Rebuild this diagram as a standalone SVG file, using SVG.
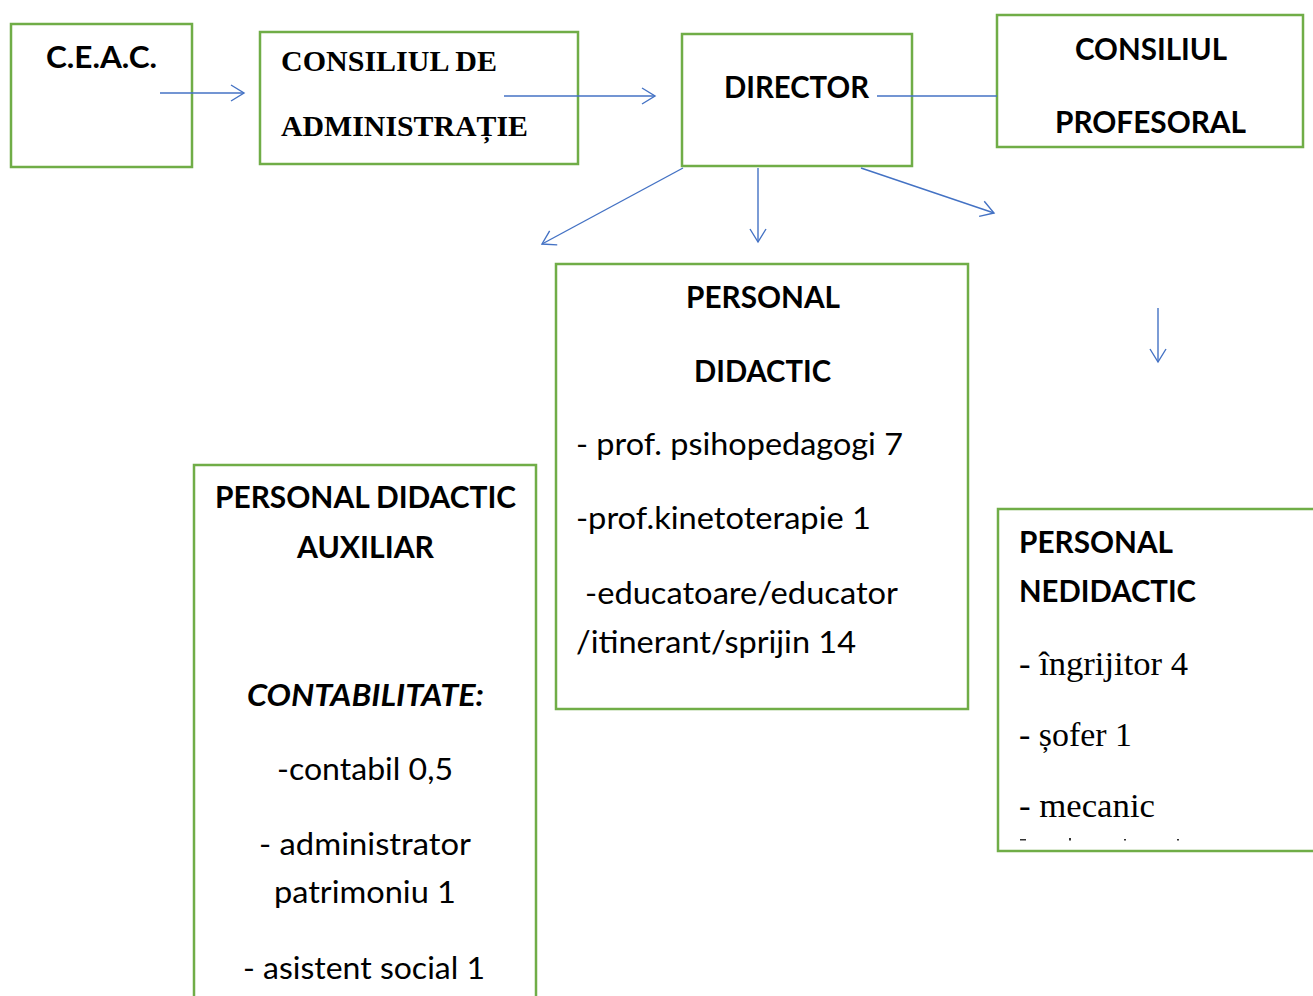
<svg xmlns="http://www.w3.org/2000/svg" width="1313" height="996" viewBox="0 0 1313 996">
  <style>
    .box { fill: #ffffff; stroke: #70AD47; stroke-width: 2.5; }
    .conn { stroke: #4472C4; stroke-width: 1.4; fill: none; }
    .sb { font-family: Lato, "Open Sans", sans-serif; font-weight: bold; font-size: 31px; fill: #000; }
    .sr { font-family: Lato, "Open Sans", sans-serif; font-weight: normal; font-size: 31px; fill: #000; }
    .tb { font-family: "Liberation Serif", "Times New Roman", serif; font-weight: bold; font-size: 30px; fill: #000; }
    .tr { font-family: "Liberation Serif", "Times New Roman", serif; font-weight: normal; font-size: 34.5px; fill: #000; }
    .mid { text-anchor: middle; }
  </style>
  <defs>
    <marker id="arr" markerUnits="userSpaceOnUse" markerWidth="18" markerHeight="20" refX="14" refY="9" orient="auto">
      <path d="M1,1 L14,9 L1,17" fill="none" stroke="#4472C4" stroke-width="1.4"/>
    </marker>
  </defs>
  <rect width="1313" height="996" fill="#ffffff"/>

  <g id="ceac">
    <rect class="box" x="11" y="24" width="181" height="143"/>
    <text class="sb mid" x="101.5" y="68" textLength="111" lengthAdjust="spacingAndGlyphs">C.E.A.C.</text>
  </g>

  <g id="consiliul-administratie">
    <rect class="box" x="260" y="32" width="318" height="132"/>
    <text class="tb" x="281" y="71" textLength="216" lengthAdjust="spacingAndGlyphs">CONSILIUL DE</text>
    <text class="tb" x="281" y="136" textLength="247" lengthAdjust="spacingAndGlyphs">ADMINISTRAȚIE</text>
  </g>

  <g id="director">
    <rect class="box" x="682" y="34" width="230" height="132"/>
    <text class="sb" x="724" y="98" textLength="145" lengthAdjust="spacingAndGlyphs">DIRECTOR</text>
  </g>

  <g id="consiliul-profesoral">
    <rect class="box" x="997" y="15" width="306" height="132"/>
    <text class="sb mid" x="1151" y="60" textLength="152" lengthAdjust="spacingAndGlyphs">CONSILIUL</text>
    <text class="sb mid" x="1150.5" y="133" textLength="191" lengthAdjust="spacingAndGlyphs">PROFESORAL</text>
  </g>

  <g id="personal-didactic">
    <rect class="box" x="556" y="264" width="412" height="445"/>
    <text class="sb mid" x="763" y="308" textLength="154" lengthAdjust="spacingAndGlyphs">PERSONAL</text>
    <text class="sb mid" x="762.5" y="382" textLength="137" lengthAdjust="spacingAndGlyphs">DIDACTIC</text>
    <text class="sr" x="576" y="455" textLength="327" lengthAdjust="spacingAndGlyphs">- prof. psihopedagogi 7</text>
    <text class="sr" x="576" y="529" textLength="295" lengthAdjust="spacingAndGlyphs">-prof.kinetoterapie 1</text>
    <text class="sr" x="585" y="604" textLength="313" lengthAdjust="spacingAndGlyphs">-educatoare/educator</text>
    <text class="sr" x="576" y="653" textLength="280" lengthAdjust="spacingAndGlyphs">/itinerant/sprijin 14</text>
  </g>

  <g id="personal-didactic-auxiliar">
    <path class="box" d="M194,1000 L194,465 L536,465 L536,1000"/>
    <text class="sb mid" x="365.5" y="508" textLength="301" lengthAdjust="spacingAndGlyphs">PERSONAL DIDACTIC</text>
    <text class="sb mid" x="365.5" y="558" textLength="137" lengthAdjust="spacingAndGlyphs">AUXILIAR</text>
    <text class="sb mid" x="365.5" y="706" font-style="italic" textLength="237" lengthAdjust="spacingAndGlyphs">CONTABILITATE:</text>
    <text class="sr mid" x="365" y="780" textLength="176" lengthAdjust="spacingAndGlyphs">-contabil 0,5</text>
    <text class="sr mid" x="365" y="855" textLength="212" lengthAdjust="spacingAndGlyphs">- administrator</text>
    <text class="sr mid" x="365" y="903" textLength="182" lengthAdjust="spacingAndGlyphs">patrimoniu 1</text>
    <text class="sr mid" x="364" y="979" textLength="242" lengthAdjust="spacingAndGlyphs">- asistent social 1</text>
  </g>

  <g id="personal-nedidactic">
    <path class="box" d="M1320,509 L998,509 L998,851 L1320,851"/>
    <text class="sb" x="1019" y="553" textLength="154" lengthAdjust="spacingAndGlyphs">PERSONAL</text>
    <text class="sb" x="1019" y="602" textLength="177" lengthAdjust="spacingAndGlyphs">NEDIDACTIC</text>
    <text class="tr" x="1019" y="675" textLength="169" lengthAdjust="spacingAndGlyphs">- îngrijitor 4</text>
    <text class="tr" x="1019" y="746" textLength="113" lengthAdjust="spacingAndGlyphs">- șofer 1</text>
    <text class="tr" x="1019" y="817" textLength="136" lengthAdjust="spacingAndGlyphs">- mecanic</text>
    <rect x="1020" y="839" width="6" height="1.5" fill="#333"/>
    <rect x="1069" y="838" width="2" height="2.5" fill="#333"/>
    <rect x="1124" y="839" width="2" height="1.5" fill="#333"/>
    <rect x="1177" y="839" width="2" height="1.5" fill="#333"/>
  </g>

  <g id="connectors">
    <line class="conn" x1="160" y1="93" x2="244" y2="93" marker-end="url(#arr)"/>
    <line class="conn" x1="504" y1="96" x2="655" y2="96" marker-end="url(#arr)"/>
    <line class="conn" x1="877" y1="96" x2="997" y2="96"/>
    <line class="conn" x1="683" y1="168" x2="542" y2="244" marker-end="url(#arr)"/>
    <line class="conn" x1="758" y1="168" x2="758" y2="242" marker-end="url(#arr)"/>
    <line class="conn" x1="861" y1="168" x2="994" y2="213" marker-end="url(#arr)"/>
    <line class="conn" x1="1158" y1="308" x2="1158" y2="362" marker-end="url(#arr)"/>
  </g>
</svg>
